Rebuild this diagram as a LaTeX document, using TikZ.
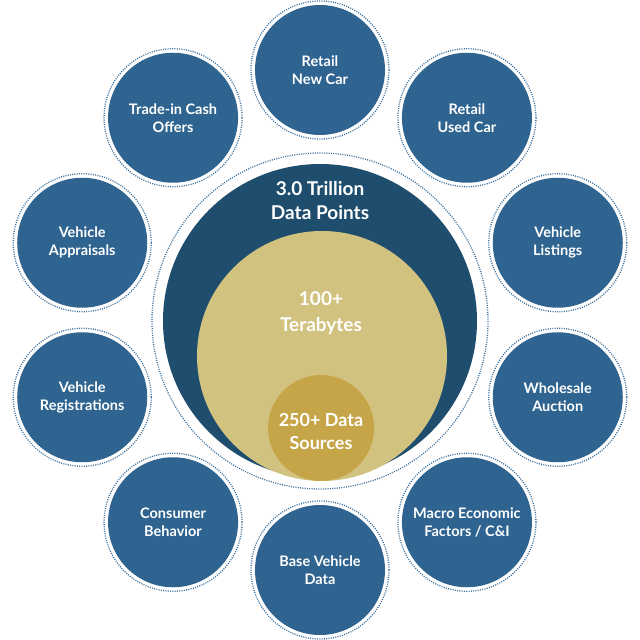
\documentclass[tikz,border=0pt]{standalone}
\usepackage{fontspec}
\setmainfont{Lato}
\definecolor{outerblue}{HTML}{2F6490}
\definecolor{dotblue}{HTML}{3A6E9C}
\definecolor{darkblue}{HTML}{1F4D6D}
\definecolor{lightgold}{HTML}{D2C27F}
\definecolor{gold}{HTML}{C6A548}
\tikzset{
  sat/.style={circle, fill=outerblue, minimum size=130pt, inner sep=0pt, text=white, align=center, font=\bfseries\fontsize{14.5}{18}\selectfont},
  satring/.style={draw=dotblue, line width=1.3pt, dash pattern=on 1pt off 1.3pt},
  ctext/.style={text=white, align=center},
}
\begin{document}
\begin{tikzpicture}[x=1pt,y=-1pt]
\useasboundingbox (0,0) rectangle (640,640);
% centre rings
\draw[satring] (320,321) circle (168);
\node[circle, fill=darkblue, minimum size=314pt, inner sep=0pt] (dark) at (320,321) {};
\node[circle, fill=lightgold, minimum size=250pt, inner sep=0pt] (light) at (322,356) {};
\node[circle, fill=gold, minimum size=106pt, inner sep=0pt] (core) at (321,428) {};
\node[ctext, font=\bfseries\fontsize{19}{24}\selectfont] (t1) at (320,201) {3.0 Trillion\\Data Points};
\node[ctext, font=\bfseries\fontsize{19}{26}\selectfont] (t2) at (321,313) {100+\\Terabytes};
\node[ctext, font=\bfseries\fontsize{18}{23}\selectfont] (t3) at (321,431) {250+ Data\\Sources};
% satellites
\foreach \ang/\nm/\txt in {90/s1/{Retail\\New Car}, 54/s2/{Retail\\Used Car}, 18/s3/{Vehicle\\Listings}, -18/s4/{Wholesale\\Auction}, -54/s5/{Macro Economic\\Factors / C\&I}, -90/s6/{Base Vehicle\\Data}, -126/s7/{Consumer\\Behavior}, -162/s8/{Vehicle\\Registrations}, 162/s9/{Vehicle\\Appraisals}, 126/s10/{Trade-in Cash\\Offers}}{
  \coordinate (c\nm) at ({320+250*cos(\ang)},{320-250*sin(\ang)});
  \draw[satring] (c\nm) circle (69);
  \node[sat] (\nm) at (c\nm) {\txt};
}
\end{tikzpicture}
\end{document}
